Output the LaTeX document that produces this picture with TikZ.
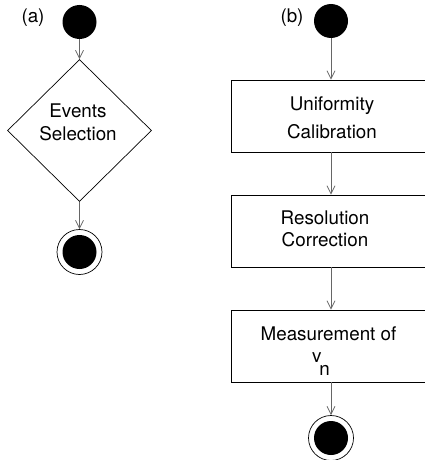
\documentclass[tikz,border=0pt]{standalone}
\usepackage{fontspec}
\setmainfont{TeX Gyre Heros}
\usetikzlibrary{shapes.geometric,arrows.meta}
\begin{document}
\begin{tikzpicture}[x=1pt,y=-1pt,
  txt/.style={font=\fontsize{18.8}{23}\selectfont, align=center, inner sep=0},
  startdot/.style={circle, fill=black, minimum size=34pt, inner sep=0},
  enddot/.style={circle, draw=black, line width=0.7pt, minimum size=45pt, inner sep=0,
    path picture={\fill[black] (path picture bounding box.center) circle (17pt);}},
  stepbox/.style={draw=black, line width=0.8pt, minimum width=209pt, minimum height=72pt, inner sep=0},
  decision/.style={diamond, draw=black, line width=0.7pt, minimum width=144pt, minimum height=142pt, inner sep=0},
  flow/.style={draw=black!60, line width=0.8pt, -{Straight Barb[length=8pt,width=8pt]}}]
\useasboundingbox (0,0) rectangle (425,460);

% (a)
\node[txt] (la) at (33,18) {(a)};
\node[startdot] (sa) at (79.5,22) {};
\node[decision] (da) at (79.5,130.5) {};
\node[txt] (ta) at (78,122.5) {Events\\Selection};
\node[enddot] (ea) at (79.5,252) {};
\draw[flow] (sa) -- (da);
\draw[flow] (da) -- (ea);

% (b)
\node[txt] (lb) at (292,18) {(b)};
\node[startdot] (sb) at (331,21) {};
\node[stepbox] (b1) at (335.5,116) {};
\node[stepbox] (b2) at (335.5,231) {};
\node[stepbox] (b3) at (335.5,346) {};
\node[txt] (t1) at (332,118) {Uniformity\\[5pt]Calibration};
\node[txt] (t2) at (325,229) {Resolution\\[-1pt]Correction};
\node[txt] (t3) at (328.5,351.5) {Measurement of\\[-1pt]v\kern-2pt\raisebox{-13pt}{n}\hspace*{15pt}};
\node[enddot] (eb) at (331,438) {};
\draw[flow] (sb) -- (sb |- b1.north);
\draw[flow] (sb |- b1.south) -- (sb |- b2.north);
\draw[flow] (sb |- b2.south) -- (sb |- b3.north);
\draw[flow] (sb |- b3.south) -- (eb);
\end{tikzpicture}
\end{document}
